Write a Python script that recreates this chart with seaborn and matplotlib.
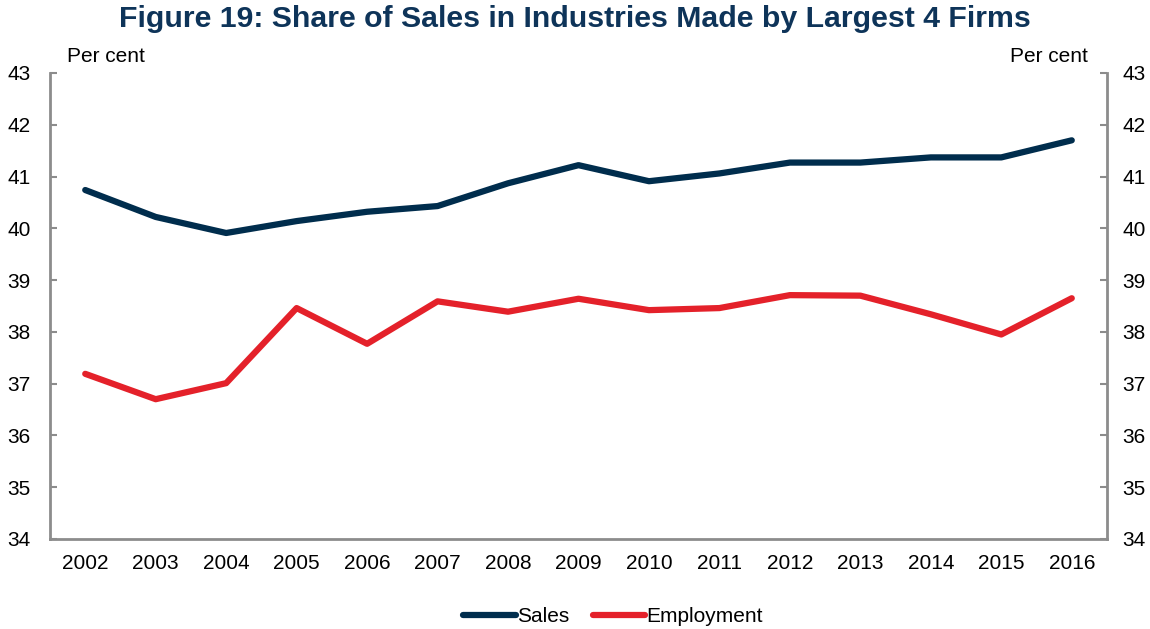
import pandas as pd
import numpy as np
import matplotlib.pyplot as plt
import seaborn as sns
from matplotlib.lines import Line2D

years = [str(y) for y in range(2002, 2017)]
sales = [40.74, 40.22, 39.91, 40.14, 40.32, 40.43, 40.87, 41.22, 40.91, 41.06,
         41.27, 41.27, 41.37, 41.37, 41.70]
employment = [37.19, 36.70, 37.01, 38.46, 37.77, 38.59, 38.39, 38.64, 38.42, 38.46,
              38.71, 38.70, 38.34, 37.95, 38.65]
y_ticks = list(range(34, 44))

navy = "#002D4D"
red = "#E4212A"
grey = "#8C8C8C"
fs = 15

df = pd.DataFrame({"year": years * 2,
                   "value": sales + employment,
                   "series": ["Sales"] * len(years) + ["Employment"] * len(years)})
df["x"] = list(range(len(years))) * 2

sns.set_style("white")
plt.rcParams["font.family"] = ["Liberation Sans", "DejaVu Sans"]
plt.rcParams["text.color"] = "black"
plt.rcParams["xtick.labelcolor"] = "black"
plt.rcParams["ytick.labelcolor"] = "black"

fig = plt.figure(figsize=(11.5, 6.29), dpi=100)
ax = fig.add_axes([50 / 1150, 1 - 539 / 629, (1107 - 50) / 1150, (539 - 73) / 629])

sns.lineplot(data=df, x="x", y="value", hue="series",
             palette={"Sales": navy, "Employment": red},
             linewidth=4.5, ax=ax, legend=False, solid_capstyle="round")

ax.set_xlim(-0.5, len(years) - 0.5)
ax.set_ylim(34, 43)
ax.set_xlabel("")
ax.set_ylabel("")

# x labels at categories, ticks between them
ax.set_xticks(range(len(years)))
ax.set_xticklabels(years, fontsize=fs)
ax.set_xticks(np.arange(0.5, len(years) - 1, 1), minor=True)
ax.tick_params(axis="x", which="major", length=0, pad=11)
ax.tick_params(axis="x", which="minor", direction="in", length=5, width=1.5, color=grey)

ax.set_yticks(y_ticks)
ax.set_yticklabels([str(v) for v in y_ticks], fontsize=fs)
ax.tick_params(axis="y", direction="in", length=5, width=1.5, color=grey, pad=14)

ax2 = ax.twinx()
ax2.set_ylim(34, 43)
ax2.set_yticks(y_ticks)
ax2.set_yticklabels([str(v) for v in y_ticks], fontsize=fs)
ax2.tick_params(axis="y", direction="in", length=5, width=1.5, color=grey, pad=11)
ax2.grid(False)

for a in (ax, ax2):
    a.spines["top"].set_visible(False)
    for side in ("left", "right", "bottom"):
        a.spines[side].set_color(grey)
        a.spines[side].set_linewidth(2)
ax.spines["right"].set_visible(False)
ax2.spines["left"].set_visible(False)
ax2.spines["bottom"].set_visible(False)

fig.text(67 / 1150, 1 - 56 / 629, "Per cent", fontsize=fs, ha="left", va="center")
fig.text(1088 / 1150, 1 - 56 / 629, "Per cent", fontsize=fs, ha="right", va="center")

fig.text(0.5, 1 - 19 / 629, "Figure 19: Share of Sales in Industries Made by Largest 4 Firms",
         fontsize=21.8, fontweight="bold", color="#0E3459", ha="center", va="center")

handles = [Line2D([0], [0], color=navy, lw=4.5, solid_capstyle="round"),
           Line2D([0], [0], color=red, lw=4.5, solid_capstyle="round")]
fig.legend(handles, ["Sales", "Employment"], loc="center", bbox_to_anchor=(0.533, 1 - 617 / 629),
           ncol=2, frameon=False, fontsize=fs, handlelength=2.5, handletextpad=0.05,
           columnspacing=1.15)

fig.savefig("out.png", dpi=100)
